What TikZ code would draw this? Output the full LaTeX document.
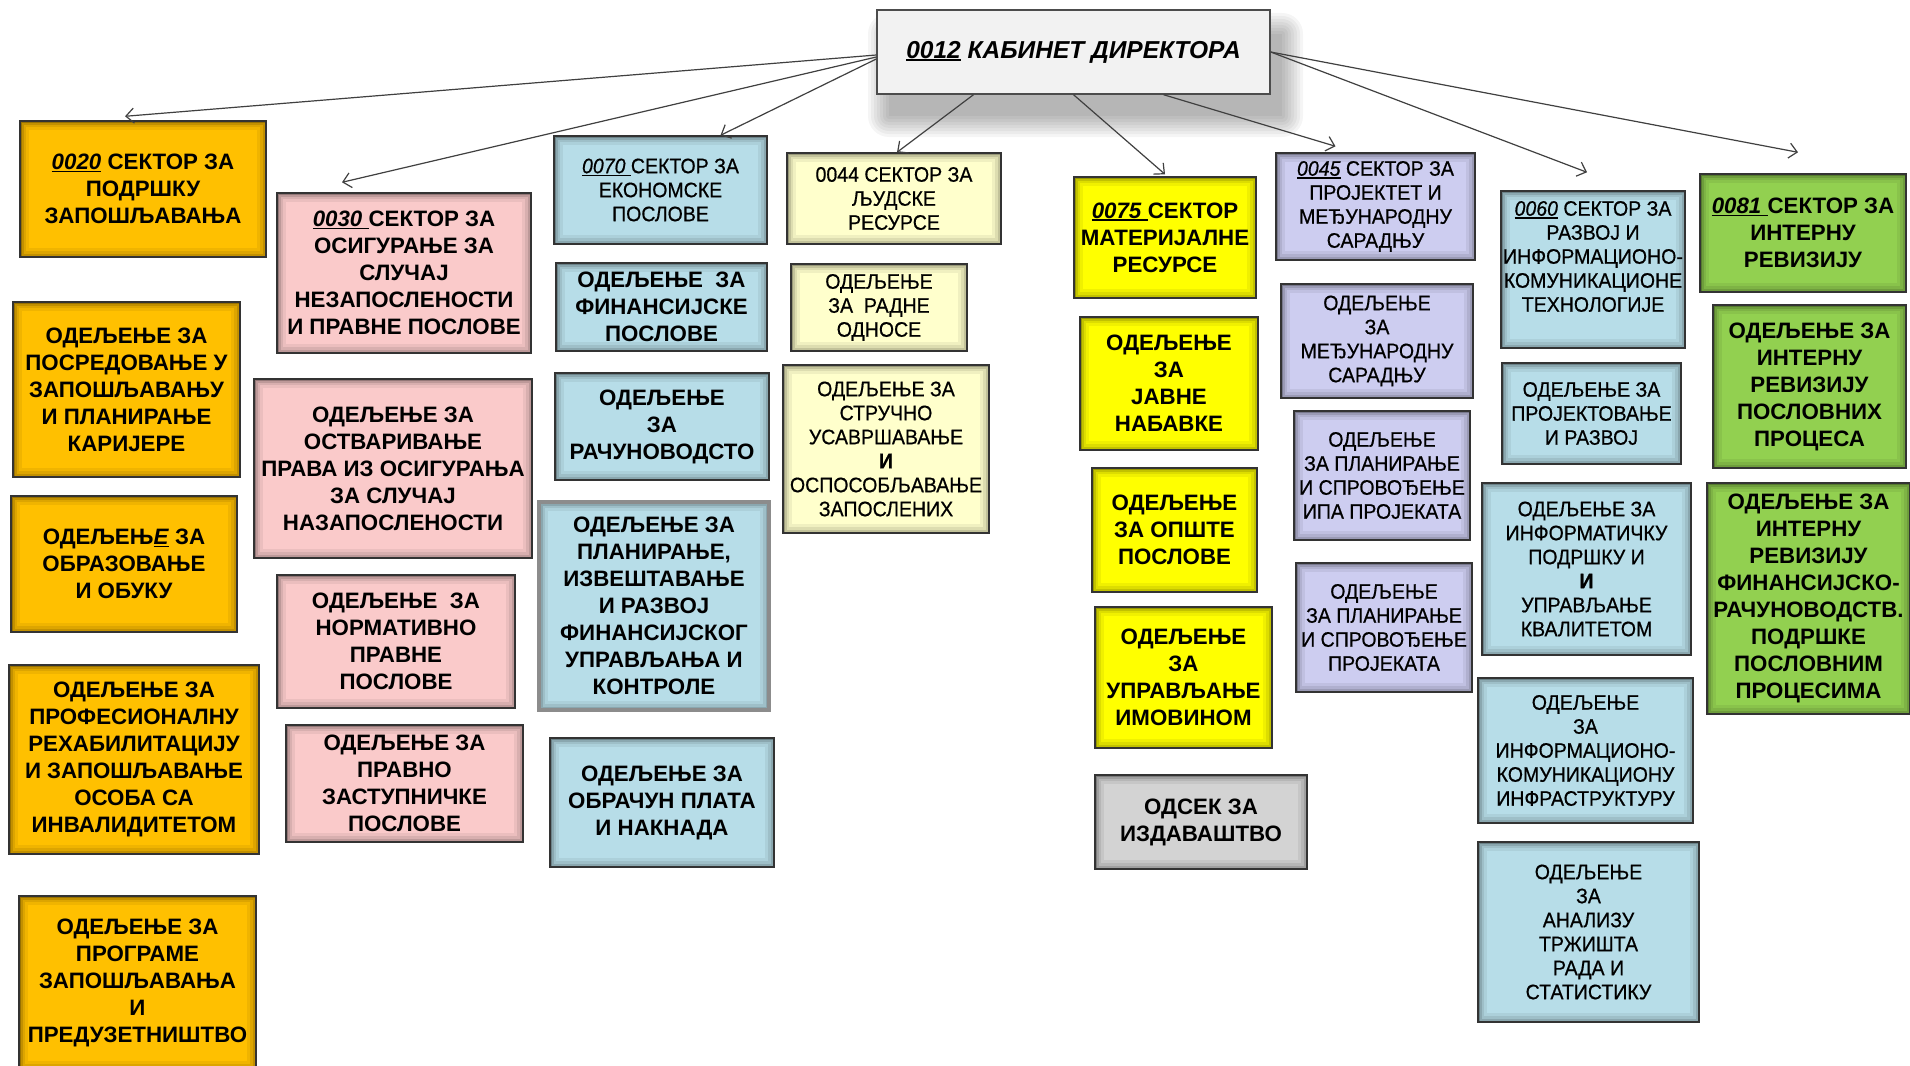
\documentclass[tikz,border=0pt]{standalone}
\usepackage{fontspec}
\setmainfont{Liberation Sans}
\newfontfamily\nf[FakeStretch=0.93,FakeBold=0.6]{Liberation Sans}
\usetikzlibrary{arrows.meta,calc}
\definecolor{corange}{HTML}{FFC000}
\definecolor{cpink}{HTML}{FACACA}
\definecolor{cteal}{HTML}{B7DDE8}
\definecolor{clyel}{HTML}{FFFFCC}
\definecolor{cyel}{HTML}{FFFF00}
\definecolor{clav}{HTML}{CDCDF0}
\definecolor{cgreen}{HTML}{92D050}
\definecolor{cgray}{HTML}{D3D3D3}
\definecolor{croot}{HTML}{F2F2F2}
\newcommand\ul[1]{\setbox0\hbox{#1}\rlap{\rule[-2.8pt]{\wd0}{1.5pt}}\box0\relax}
\tikzset{
  bxs/.style={draw=black!80, line width=1.4pt, fill=#1, inner sep=0pt,
    path picture={\foreach \w/\o in {18/0.06,12/0.08,7/0.12,3/0.22}{
      \draw[line width=\w pt, black, opacity=\o] (path picture bounding box.south west) rectangle (path picture bounding box.north east);}}},
  bt/.style={font=\fontsize{22.3}{27}\selectfont\bfseries, align=center, inner sep=0pt},
  nt/.style={font=\nf\fontsize{21}{24}\selectfont, align=center, inner sep=0pt},
  conn/.style={draw=black!75, line width=1.2pt, -{Straight Barb[length=8pt,width=15pt]}},
}
\newcommand\bx[9]{%
  \node[#6, minimum width={(#4-#2)*1pt}, minimum height={(#5-#3)*1pt}] (#1) at ({(#2+#4)/2},{(#3+#5)/2}) {};
  \node[#7] (#1t) at ($(#1.center)+(0,#8)$) {#9};}
\begin{document}
\begin{tikzpicture}[x=1pt,y=-1pt]
\fill[white] (0,0) rectangle (1910,1065);
\useasboundingbox (0,0) rectangle (1910,1065);
% root shadow
\foreach \k in {0,...,7}{
  \fill[black, opacity=0.04, rounded corners=\k*3pt] (889-\k*3,34-\k*3) rectangle (1282+\k*3,116+\k*3);}
\node[draw=black!70, line width=1.4pt, fill=croot, inner sep=0pt, minimum width=393pt, minimum height=84pt,
  font=\fontsize{24.5}{28}\selectfont\bfseries\itshape] (root) at (1073.5,52) {\ul{0012} КАБИНЕТ ДИРЕКТОРА};
% column 1
\bx{s20}{20}{121}{266}{257}{bxs=corange}{bt}{0}{\ul{\textit{0020}} СЕКТОР ЗА\\ПОДРШКУ\\ЗАПОШЉАВАЊА}
\bx{a2}{13}{302}{240}{477}{bxs=corange}{bt}{0}{ОДЕЉЕЊЕ ЗА\\ПОСРЕДОВАЊЕ У\\ЗАПОШЉАВАЊУ\\И ПЛАНИРАЊЕ\\КАРИЈЕРЕ}
\bx{a3}{11}{496}{237}{632}{bxs=corange}{bt}{0}{ОДЕЉЕЊ\ul{\textit{Е}} ЗА\\ОБРАЗОВАЊЕ\\И ОБУКУ}
\bx{a4}{9}{665}{259}{854}{bxs=corange}{bt}{0}{ОДЕЉЕЊЕ ЗА\\ПРОФЕСИОНАЛНУ\\РЕХАБИЛИТАЦИЈУ\\И ЗАПОШЉАВАЊЕ\\ОСОБА СА\\ИНВАЛИДИТЕТОМ}
\bx{a5}{19}{896}{256}{1070}{bxs=corange}{bt}{0}{ОДЕЉЕЊЕ ЗА\\ПРОГРАМЕ\\ЗАПОШЉАВАЊА\\И\\ПРЕДУЗЕТНИШТВО}
% column 2
\bx{s30}{277}{193}{531}{353}{bxs=cpink}{bt}{0}{\ul{\textit{0030} }СЕКТОР ЗА\\ОСИГУРАЊЕ ЗА\\СЛУЧАЈ\\НЕЗАПОСЛЕНОСТИ\\И ПРАВНЕ ПОСЛОВЕ}
\bx{b2}{254}{379}{532}{558}{bxs=cpink}{bt}{0}{ОДЕЉЕЊЕ ЗА\\ОСТВАРИВАЊЕ\\ПРАВА ИЗ ОСИГУРАЊА\\ЗА СЛУЧАЈ\\НАЗАПОСЛЕНОСТИ}
\bx{b3}{277}{575}{515}{708}{bxs=cpink}{bt}{0}{ОДЕЉЕЊЕ\ \ ЗА\\НОРМАТИВНО\\ПРАВНЕ\\ПОСЛОВЕ}
\bx{b4}{286}{725}{523}{842}{bxs=cpink}{bt}{0}{ОДЕЉЕЊЕ ЗА\\ПРАВНО\\ЗАСТУПНИЧКЕ\\ПОСЛОВЕ}
% column 3
\bx{s70}{554}{136}{767}{244}{bxs=cteal}{nt}{0}{\ul{\textit{0070} }СЕКТОР ЗА\\ЕКОНОМСКЕ\\ПОСЛОВЕ}
\bx{c2}{556}{263}{767}{351}{bxs=cteal}{bt}{0}{ОДЕЉЕЊЕ\ \ ЗА\\ФИНАНСИЈСКЕ\\ПОСЛОВЕ}
\bx{c3}{555}{373}{769}{480}{bxs=cteal}{bt}{0}{ОДЕЉЕЊЕ\\ЗА\\РАЧУНОВОДСТО}
\bx{c4}{539}{502}{769}{710}{bxs=cteal, draw=black!45, line width=3.5pt}{bt}{0}{ОДЕЉЕЊЕ ЗА\\ПЛАНИРАЊЕ,\\ИЗВЕШТАВАЊЕ\\И РАЗВОЈ\\ФИНАНСИЈСКОГ\\УПРАВЉАЊА И\\КОНТРОЛЕ}
\bx{c5}{550}{738}{774}{867}{bxs=cteal}{bt}{0}{ОДЕЉЕЊЕ ЗА\\ОБРАЧУН ПЛАТА\\И НАКНАДА}
% column 4
\bx{s44}{787}{153}{1001}{244}{bxs=clyel}{nt}{0}{0044 СЕКТОР ЗА\\ЉУДСКЕ\\РЕСУРСЕ}
\bx{d2}{791}{264}{967}{351}{bxs=clyel}{nt}{0}{ОДЕЉЕЊЕ\\ЗА\ \ РАДНЕ\\ОДНОСЕ}
\bx{d3}{783}{365}{989}{533}{bxs=clyel}{nt}{0}{ОДЕЉЕЊЕ ЗА\\СТРУЧНО\\УСАВРШАВАЊЕ\\{\bfseries И}\\ОСПОСОБЉАВАЊЕ\\ЗАПОСЛЕНИХ}
% column 5
\bx{s75}{1074}{177}{1256}{298}{bxs=cyel}{bt}{0}{\ul{\textit{0075} }СЕКТОР\\МАТЕРИЈАЛНЕ\\РЕСУРСЕ}
\bx{e2}{1080}{317}{1258}{450}{bxs=cyel}{bt}{0}{ОДЕЉЕЊЕ\\ЗА\\ЈАВНЕ\\НАБАВКЕ}
\bx{e3}{1092}{468}{1257}{592}{bxs=cyel}{bt}{0}{ОДЕЉЕЊЕ\\ЗА ОПШТЕ\\ПОСЛОВЕ}
\bx{e4}{1095}{607}{1272}{748}{bxs=cyel}{bt}{0}{ОДЕЉЕЊЕ\\ЗА\\УПРАВЉАЊЕ\\ИМОВИНОМ}
\bx{e5}{1095}{775}{1307}{869}{bxs=cgray}{bt}{0}{ОДСЕК ЗА\\ИЗДАВАШТВО}
% column 6
\bx{s45}{1276}{153}{1475}{260}{bxs=clav}{nt}{0}{\ul{\textit{0045}} СЕКТОР ЗА\\ПРОЈЕКТЕТ И\\МЕЂУНАРОДНУ\\САРАДЊУ}
\bx{f2}{1281}{284}{1473}{398}{bxs=clav}{nt}{0}{ОДЕЉЕЊЕ\\ЗА\\МЕЂУНАРОДНУ\\САРАДЊУ}
\bx{f3}{1294}{411}{1470}{540}{bxs=clav}{nt}{0}{ОДЕЉЕЊЕ\\ЗА ПЛАНИРАЊЕ\\И СПРОВОЂЕЊЕ\\ИПА ПРОЈЕКАТА}
\bx{f4}{1296}{563}{1472}{692}{bxs=clav}{nt}{0}{ОДЕЉЕЊЕ\\ЗА ПЛАНИРАЊЕ\\И СПРОВОЂЕЊЕ\\ПРОЈЕКАТА}
% column 7
\bx{s60}{1501}{191}{1685}{348}{bxs=cteal}{nt}{-13}{\ul{\textit{0060}} СЕКТОР ЗА\\РАЗВОЈ И\\ИНФОРМАЦИОНО-\\КОМУНИКАЦИОНЕ\\ТЕХНОЛОГИЈЕ}
\bx{g2}{1502}{363}{1681}{464}{bxs=cteal}{nt}{0}{ОДЕЉЕЊЕ ЗА\\ПРОЈЕКТОВАЊЕ\\И РАЗВОЈ}
\bx{g3}{1482}{483}{1691}{655}{bxs=cteal}{nt}{0}{ОДЕЉЕЊЕ ЗА\\ИНФОРМАТИЧКУ\\ПОДРШКУ И\\{\bfseries И}\\УПРАВЉАЊЕ\\КВАЛИТЕТОМ}
\bx{g4}{1478}{678}{1693}{823}{bxs=cteal}{nt}{0}{ОДЕЉЕЊЕ\\ЗА\\ИНФОРМАЦИОНО-\\КОМУНИКАЦИОНУ\\ИНФРАСТРУКТУРУ}
\bx{g5}{1478}{842}{1699}{1022}{bxs=cteal}{nt}{0}{ОДЕЉЕЊЕ\\ЗА\\АНАЛИЗУ\\ТРЖИШТА\\РАДА И\\СТАТИСТИКУ}
% column 8
\bx{s81}{1700}{174}{1906}{292}{bxs=cgreen}{bt}{0}{\ul{\textit{0081} }СЕКТОР ЗА\\ИНТЕРНУ\\РЕВИЗИЈУ}
\bx{h2}{1713}{305}{1906}{468}{bxs=cgreen}{bt}{0}{ОДЕЉЕЊЕ ЗА\\ИНТЕРНУ\\РЕВИЗИЈУ\\ПОСЛОВНИХ\\ПРОЦЕСА}
\bx{h3}{1707}{483}{1910}{714}{bxs=cgreen}{bt}{0}{ОДЕЉЕЊЕ ЗА\\ИНТЕРНУ\\РЕВИЗИЈУ\\ФИНАНСИЈСКО-\\РАЧУНОВОДСТВ.\\ПОДРШКЕ\\ПОСЛОВНИМ\\ПРОЦЕСИМА}
% connectors
\draw[conn] ([yshift=-3pt]root.west) -- ([xshift=-18pt,yshift=4pt]s20.north);
\draw[conn] ([yshift=-5pt]root.west) -- ([xshift=-62pt,yshift=10pt]s30.north);
\draw[conn] ([yshift=-7pt]root.west) -- ([xshift=60pt]s70.north);
\draw[conn] ([xshift=-100pt]root.south) -- ([xshift=3pt]s44.north);
\draw[conn] (root.south) -- ([yshift=2pt]s75.north);
\draw[conn] ([xshift=90pt]root.south) -- ([xshift=-40pt,yshift=6pt]s45.north);
\draw[conn] (root.east) -- ([xshift=-6pt,yshift=18pt]s60.north);
\draw[conn] (root.east) -- ([xshift=-5pt,yshift=21pt]s81.north);
\end{tikzpicture}
\end{document}
